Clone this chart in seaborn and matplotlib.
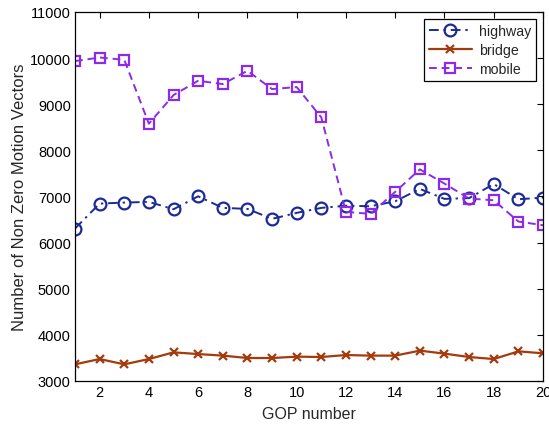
import matplotlib
matplotlib.use("Agg")
import matplotlib.pyplot as plt
import seaborn as sns
import pandas as pd

gop = list(range(1, 21))
highway = [6305, 6846, 6868, 6883, 6723, 7004, 6753, 6731, 6515, 6645,
           6753, 6800, 6788, 6896, 7164, 6948, 6965, 7270, 6940, 6976]
bridge = [3361, 3476, 3361, 3476, 3621, 3584, 3550, 3498, 3498, 3528,
          3520, 3563, 3550, 3550, 3658, 3593, 3520, 3476, 3643, 3600]
mobile = [9935, 10013, 9963, 8578, 9199, 9509, 9437, 9725, 9329, 9372,
          8714, 6667, 6623, 7100, 7589, 7279, 6955, 6918, 6457, 6377]
x_ticks = [2, 4, 6, 8, 10, 12, 14, 16, 18, 20]
y_ticks = [3000, 4000, 5000, 6000, 7000, 8000, 9000, 10000, 11000]

sns.set_style("white")
plt.rcParams["font.family"] = ["Liberation Sans", "DejaVu Sans"]

fig = plt.figure(figsize=(5.49, 4.27), dpi=100)
ax = fig.add_axes([0.1366, 0.1054, 0.8525, 0.8642])

df = pd.DataFrame({"gop": gop, "highway": highway, "bridge": bridge, "mobile": mobile})

sns.lineplot(data=df, x="gop", y="highway", ax=ax, color="#1c2a96",
             linestyle=(0, (5, 2.5, 1.2, 2.5)), linewidth=1.4, marker="o",
             markersize=8.5, markerfacecolor="none", markeredgecolor="#1c2a96",
             markeredgewidth=1.6, label="highway")
sns.lineplot(data=df, x="gop", y="bridge", ax=ax, color="#a33b0d",
             linestyle="-", linewidth=1.6, marker="x", markersize=5.5,
             markeredgecolor="#a33b0d", markeredgewidth=1.6, label="bridge")
sns.lineplot(data=df, x="gop", y="mobile", ax=ax, color="#8b2be8",
             linestyle=(0, (4, 2.5)), linewidth=1.4, marker="s",
             markersize=7.5, markerfacecolor="none", markeredgecolor="#8b2be8",
             markeredgewidth=1.6, label="mobile")

ax.set_xlim(1, 20)
ax.set_ylim(3000, 11000)
ax.set_xticks(x_ticks)
ax.set_yticks(y_ticks)
ax.tick_params(direction="in", length=4, width=0.8, top=True, right=True,
               labelsize=10.5, colors="black", pad=3)
for s in ax.spines.values():
    s.set_color("black")
    s.set_linewidth(0.9)
ax.set_xlabel("GOP number", fontsize=11.5, labelpad=5)
ax.set_ylabel("Number of Non Zero Motion Vectors", fontsize=12, labelpad=2)

leg = ax.legend(loc="upper right", fontsize=10.2, frameon=True, fancybox=False,
                edgecolor="black", framealpha=1, borderaxespad=0.5,
                handlelength=3.0, handletextpad=0.5, labelspacing=0.35,
                borderpad=0.35)
leg.get_frame().set_linewidth(0.9)

fig.savefig("out.png", dpi=100)
